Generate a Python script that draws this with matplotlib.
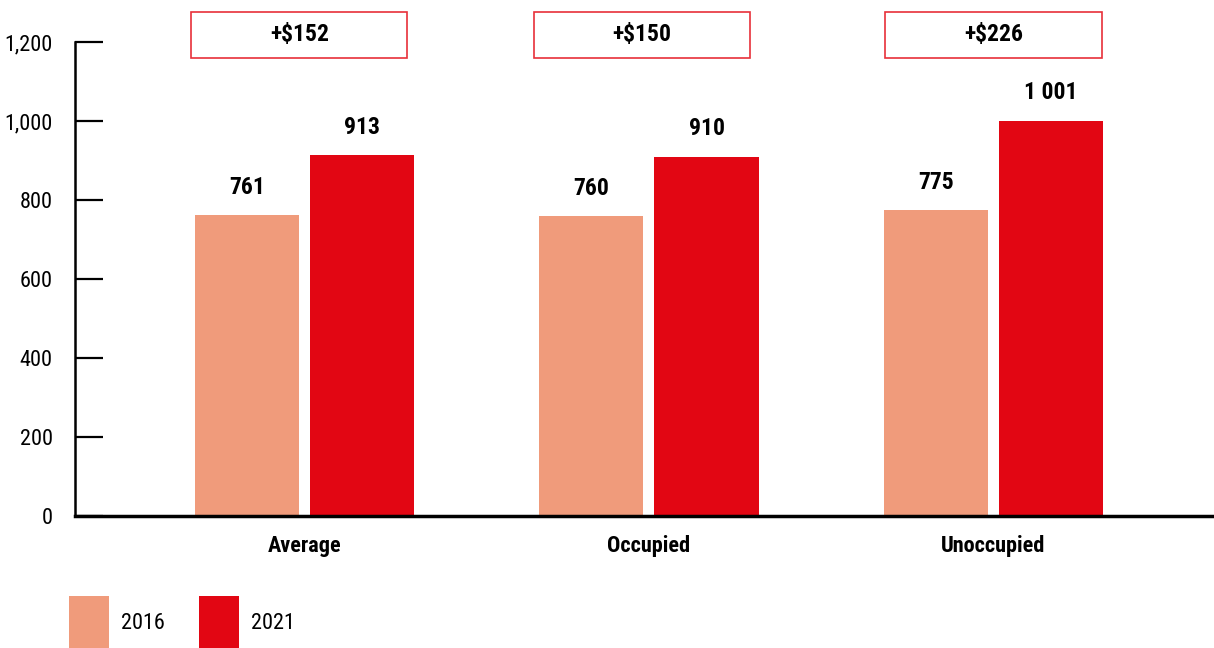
import numpy as np
import matplotlib
matplotlib.use("Agg")
import matplotlib.pyplot as plt
from matplotlib import font_manager
from matplotlib.patches import Rectangle

categories = ["Average", "Occupied", "Unoccupied"]
values_2016 = [761, 760, 775]
values_2021 = [913, 910, 1001]
value_labels_2016 = ["761", "760", "775"]
value_labels_2021 = ["913", "910", "1 001"]
change_labels = ["+$152", "+$150", "+$226"]
years = ["2016", "2021"]
y_ticks = [0, 200, 400, 600, 800, 1000, 1200]
y_tick_labels = ["0", "200", "400", "600", "800", "1,000", "1,200"]

COL_2016 = "#F09B7B"
COL_2021 = "#E20613"
BOX_EDGE = "#E8303A"

# pick a narrow font if one is around
names = {f.name for f in font_manager.fontManager.ttflist}
family = "DejaVu Sans"
for cand in ["Roboto Condensed", "Liberation Sans Narrow", "Open Sans Condensed", "DejaVu Sans Condensed"]:
    if cand in names:
        family = cand
        break
plt.rcParams["font.family"] = [family, "DejaVu Sans"]

fig = plt.figure(figsize=(12.14, 6.48), dpi=100)
ax = fig.add_axes([75 / 1214, 132 / 648, 1 - 75 / 1214, (516 - 42) / 648])

x = np.arange(len(categories))
width = 0.302
off = 0.167
ax.bar(x - off, values_2016, width, color=COL_2016, label=years[0], zorder=2)
ax.bar(x + off, values_2021, width, color=COL_2021, label=years[1], zorder=2)

box_shift = [-0.015, -0.02, 0.0]  # boxes sit a touch left of the groups
for i in range(len(categories)):
    ax.annotate(value_labels_2016[i], (x[i] - off, values_2016[i]), xytext=(0, 20),
                textcoords="offset points", ha="center", va="center",
                fontsize=17, fontweight="bold")
    ax.annotate(value_labels_2021[i], (x[i] + off, values_2021[i]), xytext=(0, 20),
                textcoords="offset points", ha="center", va="center",
                fontsize=17, fontweight="bold")
    # change box on top
    bw = 0.627
    cx = x[i] + box_shift[i]
    ax.add_patch(Rectangle((cx - bw / 2, 1159), bw, 117, fill=False,
                           edgecolor=BOX_EDGE, linewidth=1.2, clip_on=False))
    ax.text(cx, 1218, change_labels[i], ha="center", va="center",
            fontsize=17, fontweight="bold")

ax.set_xlim(-0.666, 2.64)
ax.set_ylim(0, 1200)
ax.set_yticks(y_ticks)
ax.set_yticklabels(y_tick_labels)
ax.set_xticks(x)
ax.set_xticklabels(categories, fontweight="bold")

ax.tick_params(axis="y", direction="in", length=20, width=1.6, pad=16, labelsize=16)
ax.tick_params(axis="x", length=0, pad=14, labelsize=16)
for side in ["top", "right"]:
    ax.spines[side].set_visible(False)
ax.spines["left"].set_linewidth(1.8)
ax.spines["bottom"].set_linewidth(2.5)

leg = fig.legend(loc="lower left", bbox_to_anchor=(0.040, -0.033), ncol=2, frameon=False,
                 fontsize=16, handlelength=1.8, handleheight=3.34, handletextpad=0.55,
                 columnspacing=1.55)

fig.savefig("out.png", dpi=100)
